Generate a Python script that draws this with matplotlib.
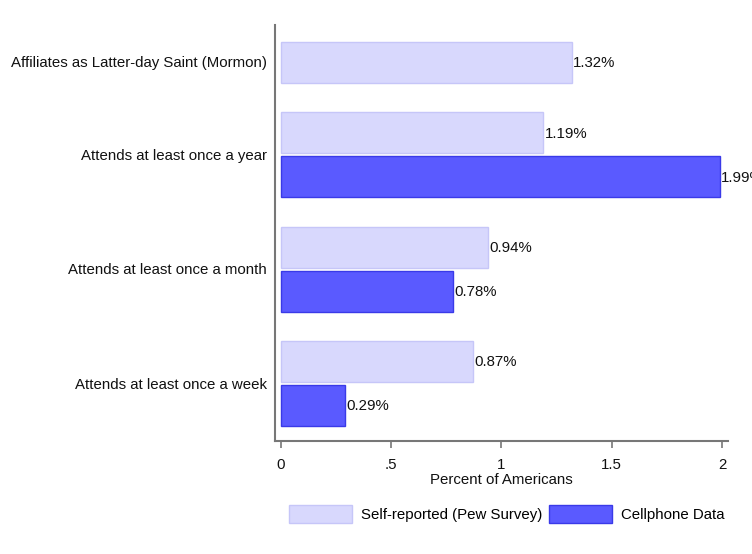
import numpy as np
import matplotlib
matplotlib.use("Agg")
import matplotlib.pyplot as plt
from matplotlib.patches import Patch

categories = ["Affiliates as Latter-day Saint (Mormon)",
              "Attends at least once a year",
              "Attends at least once a month",
              "Attends at least once a week"]
self_reported = [1.32, 1.19, 0.94, 0.87]
cellphone = [np.nan, 1.99, 0.78, 0.29]
series_names = ["Self-reported (Pew Survey)", "Cellphone Data"]
xticks = [0, 0.5, 1, 1.5, 2]
xticklabels = ["0", ".5", "1", "1.5", "2"]

light_face, light_edge = "#d8d8fd", "#c6c6f8"
dark_face, dark_edge = "#5a5aff", "#3a3ae8"

plt.rcParams['font.family'] = ['Liberation Sans', 'DejaVu Sans']
FS = 10.8

fig = plt.figure(figsize=(7.52, 5.54), dpi=100)
W, H = 752, 554
ax = fig.add_axes([275 / W, 1 - 441 / H, (728 - 275) / W, (441 - 25) / H])

slot = 44.0
bar_h = 41.0
group_gap = 26.5
y = 62.0
label_y = []
for i, cat in enumerate(categories):
    vals = [(self_reported[i], light_face, light_edge), (cellphone[i], dark_face, dark_edge)]
    present = [v for v in vals if not np.isnan(v[0])]
    centers = []
    for v, fc, ec in present:
        ax.barh(y, v, height=bar_h, color=fc, edgecolor=ec, linewidth=1.0)
        ax.text(v + 0.005, y + 1, f"{v:.2f}%", va="center", ha="left", fontsize=FS,
                color="#111111", clip_on=False)
        centers.append(y)
        y += slot
    label_y.append(np.mean(centers))
    y += group_gap

ax.set_ylim(441, 25)
ax.set_xlim(-0.027, 2.027)
ax.set_yticks(label_y)
ax.set_yticklabels(categories, fontsize=FS, color="#111111")
ax.tick_params(axis="y", length=0, pad=6)
ax.set_xticks(xticks)
ax.set_xticklabels(xticklabels, fontsize=FS, color="#111111")
ax.tick_params(axis="x", length=5, width=1.2, color="#777777", pad=7)
ax.set_xlabel("Percent of Americans", fontsize=FS, color="#111111", labelpad=1)

for s in ["top", "right"]:
    ax.spines[s].set_visible(False)
for s in ["left", "bottom"]:
    ax.spines[s].set_color("#777777")
    ax.spines[s].set_linewidth(1.5)

handles = [Patch(facecolor=light_face, edgecolor=light_edge, label=series_names[0]),
           Patch(facecolor=dark_face, edgecolor=dark_edge, label=series_names[1])]
fig.legend(handles=handles, loc="center", bbox_to_anchor=(507 / W, 1 - 514 / H),
           ncol=2, frameon=False, fontsize=FS, handlelength=4.2, handleheight=1.45,
           handletextpad=0.6, columnspacing=0.45)

fig.savefig("out.png", dpi=100, facecolor="white")
